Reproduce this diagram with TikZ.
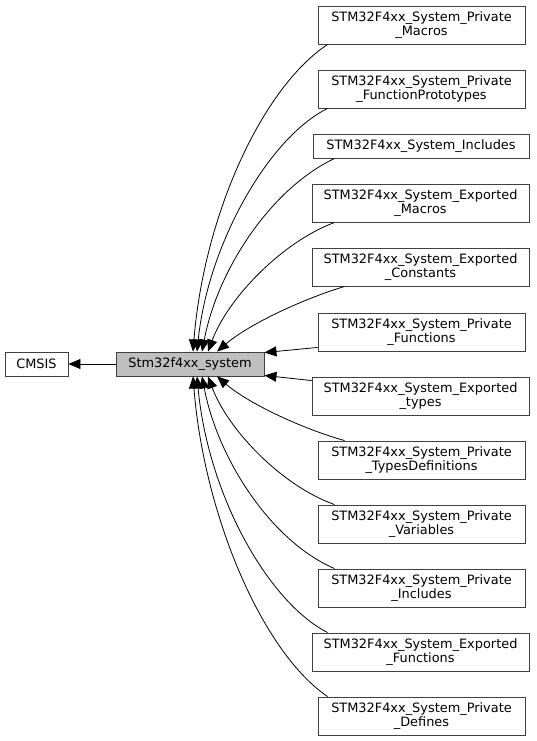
\documentclass[tikz,border=0pt]{standalone}
\usepackage{fontspec}
\setmainfont{DejaVu Sans}
\usetikzlibrary{arrows.meta}
\begin{document}
\begin{tikzpicture}[x=1pt,y=-1pt,
 box/.style={draw=black!75, line width=0.9pt, fill=white, inner sep=0pt, align=center, font=\fontsize{12.9}{14.5}\selectfont},
 pbox/.style={box, minimum width=207pt, minimum height=38pt},
 ebox/.style={box, minimum width=217pt, minimum height=38pt},
 edge/.style={draw=black, line width=0.8pt, -{Triangle[length=12pt,width=10pt]}}]
\useasboundingbox (0,0) rectangle (536,741);
\node[box, minimum width=63pt, minimum height=24pt] (cmsis) at (36.5,364) {CMSIS};
\node[box, fill=black!25, minimum width=148pt, minimum height=24pt] (sys) at (190,364) {Stm32f4xx\_system};
\node[pbox] (b1) at (421.5,25) {STM32F4xx\_System\_Private\\\_Macros};
\node[pbox] (b2) at (421.5,89) {STM32F4xx\_System\_Private\\\_FunctionPrototypes};
\node[box, minimum width=216pt, minimum height=24pt] (b3) at (421,146) {STM32F4xx\_System\_Includes};
\node[ebox] (b4) at (420.5,203) {STM32F4xx\_System\_Exported\\\_Macros};
\node[ebox] (b5) at (420.5,267) {STM32F4xx\_System\_Exported\\\_Constants};
\node[pbox] (b6) at (421.5,332) {STM32F4xx\_System\_Private\\\_Functions};
\node[ebox] (b7) at (420.5,396) {STM32F4xx\_System\_Exported\\\_types};
\node[pbox] (b8) at (421.5,460) {STM32F4xx\_System\_Private\\\_TypesDefinitions};
\node[pbox] (b9) at (421.5,524) {STM32F4xx\_System\_Private\\\_Variables};
\node[pbox] (b10) at (421.5,588) {STM32F4xx\_System\_Private\\\_Includes};
\node[ebox] (b11) at (420.5,652) {STM32F4xx\_System\_Exported\\\_Functions};
\node[pbox] (b12) at (421.5,716) {STM32F4xx\_System\_Private\\\_Defines};

\draw[edge] (sys.west) -- (cmsis.east);

\draw[edge] ([xshift=10pt]b1.south west) .. controls (262,88) and (204,215) .. ([xshift=3pt]sys.north);
\draw[edge] ([xshift=10pt]b2.south west) .. controls (268,138) and (208,245) .. ([xshift=7pt]sys.north);
\draw[edge] ([xshift=22pt]b3.south west) .. controls (272,188) and (218,268) .. ([xshift=12pt]sys.north);
\draw[edge] ([xshift=23pt]b4.south west) .. controls (282,242) and (228,298) .. ([xshift=18pt]sys.north);
\draw[edge] ([xshift=33pt]b5.south west) .. controls (300,300) and (248,325) .. ([xshift=27pt]sys.north);
\draw[edge] ([yshift=4pt]b6.south west) -- ([yshift=-1pt]sys.north east);
\draw[edge] ([yshift=-4pt]b7.north west) -- ([yshift=1pt]sys.south east);
\draw[edge] ([xshift=27pt]b8.north west) .. controls (300,428) and (248,403) .. ([xshift=27pt]sys.south);
\draw[edge] ([xshift=17pt]b9.north west) .. controls (282,486) and (228,430) .. ([xshift=18pt]sys.south);
\draw[edge] ([xshift=17pt]b10.north west) .. controls (272,542) and (218,460) .. ([xshift=12pt]sys.south);
\draw[edge] ([xshift=16pt]b11.north west) .. controls (268,602) and (208,495) .. ([xshift=7pt]sys.south);
\draw[edge] ([xshift=10pt]b12.north west) .. controls (262,652) and (204,515) .. ([xshift=3pt]sys.south);
\end{tikzpicture}
\end{document}
